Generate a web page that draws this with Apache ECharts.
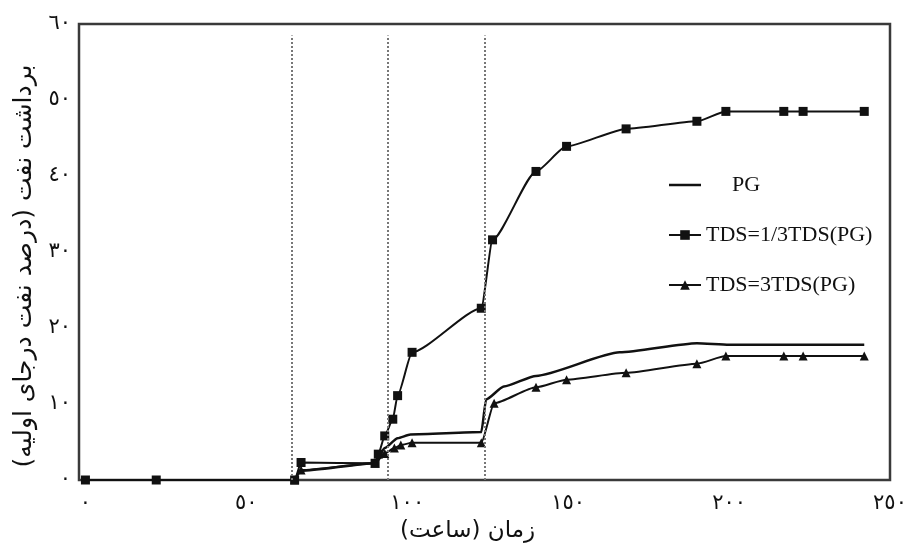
<!DOCTYPE html>
<html>
<head>
<meta charset="utf-8">
<script src="https://cdn.jsdelivr.net/npm/echarts@6/dist/echarts.min.js"></script>
<style>html,body{margin:0;padding:0;background:#fff}#c{width:920px;height:548px}</style>
</head>
<body>
<div id="c"></div>
<script>
const xTicks = [0, 50, 100, 150, 200, 250];
const yTicks = [0, 10, 20, 30, 40, 50, 60];
const digits = ['٠','١','٢','٣','٤','٥','٦','٧','٨','٩'];
const seriesNames = ['PG', 'TDS=1/3TDS(PG)', 'TDS=3TDS(PG)'];
const pgData = [[65,0],[67,1.2],[90,2.2],[93,4.2],[97,5.5],[101,6.0],[123,6.3],[124.5,10.6],[130,12.3],[140,13.7],[166,16.8],[190,18.0],[200,17.8],[242,17.8]];
const lowTdsData = [[0,0],[22,0],[65,0],[67,2.3],[90,2.2],[91,3.4],[93,5.8],[95.5,8.0],[97,11.1],[101.5,16.8],[123,22.6],[126.5,31.6],[140,40.6],[149.5,43.9],[168,46.2],[190,47.2],[199,48.5],[217,48.5],[223,48.5],[242,48.5]];
const highTdsData = [[65,0],[67,1.3],[90,2.2],[93,3.5],[96,4.2],[98,4.6],[101.5,4.9],[123,4.9],[127,10.1],[140,12.2],[149.5,13.2],[168,14.1],[190,15.3],[199,16.3],[217,16.3],[223,16.3],[242,16.3]];
const dividerX = [64, 94, 124];
const dividerTop = 58.5;
const xTitle = 'زمان (ساعت)';
const yTitle = 'برداشت نفت (درصد نفت درجای اولیه)';

function toArabic(v) { return String(v).replace(/[0-9]/g, d => digits[+d]); }

const chart = echarts.init(document.getElementById('c'));
const baseFont = '"DejaVu Sans", "Noto Sans", sans-serif';
const serif = '"Liberation Serif", "Times New Roman", serif';
chart.setOption({
  animation: false,
  backgroundColor: '#fff',
  grid: { left: 79, right: 30, top: 24, bottom: 59, show: true, borderColor: '#3a3a3a', borderWidth: 2.5, containLabel: false },
  legend: {
    orient: 'vertical', left: 668, top: 174, padding: 0, itemGap: 28, itemWidth: 32, itemHeight: 12,
    data: [
      { name: seriesNames[0], icon: 'path://M0,0 L32,0 L32,2.5 L0,2.5 Z' },
      { name: seriesNames[1] },
      { name: seriesNames[2] }
    ],
    textStyle: { fontFamily: serif, fontSize: 22, color: '#111',
      rich: { pg: { fontFamily: serif, fontSize: 22, color: '#111', padding: [0,0,0,26] } } },
    formatter: n => n === 'PG' ? '{pg|PG}' : n,
    itemStyle: { color: '#111' }
  },
  xAxis: {
    type: 'value', min: -2, max: 250,
    axisLine: { show: false }, axisTick: { show: false }, splitLine: { show: false },
    axisLabel: { customValues: xTicks, formatter: v => toArabic(v), fontFamily: baseFont, fontSize: 21, color: '#111', margin: 13 },
    name: xTitle, nameLocation: 'middle', nameGap: 40,
    nameTextStyle: { fontFamily: baseFont, fontSize: 23, color: '#111', padding: [0, 34, 0, 0] }
  },
  yAxis: {
    type: 'value', min: 0, max: 60, interval: 10,
    axisLine: { show: false }, axisTick: { show: false }, splitLine: { show: false },
    axisLabel: { formatter: v => toArabic(v), fontFamily: baseFont, fontSize: 21, color: '#111', margin: 8 },
    name: yTitle, nameLocation: 'middle', nameGap: 42,
    nameTextStyle: { fontFamily: baseFont, fontSize: 25, color: '#111', padding: [0, 28, 0, 0] }
  },
  series: [
    {
      name: seriesNames[0], type: 'line', data: pgData, showSymbol: false, symbol: 'none',
      smooth: 0.2, smoothMonotone: 'x',
      lineStyle: { color: '#111', width: 2.5 }, itemStyle: { color: '#111' },
      markLine: {
        silent: true, symbol: 'none', label: { show: false },
        lineStyle: { color: '#777', type: 'dotted', width: 2 },
        data: dividerX.map(x => [{ coord: [x, 0] }, { coord: [x, dividerTop] }])
      },
      z: 3
    },
    {
      name: seriesNames[1], type: 'line', data: lowTdsData, symbol: 'rect', symbolSize: 9,
      smooth: 0.2, smoothMonotone: 'x',
      lineStyle: { color: '#111', width: 2 }, itemStyle: { color: '#111' }, z: 4
    },
    {
      name: seriesNames[2], type: 'line', data: highTdsData, symbol: 'triangle', symbolSize: 9,
      smooth: 0.2, smoothMonotone: 'x',
      lineStyle: { color: '#111', width: 2 }, itemStyle: { color: '#111' }, z: 4
    }
  ]
});
</script>
</body>
</html>
